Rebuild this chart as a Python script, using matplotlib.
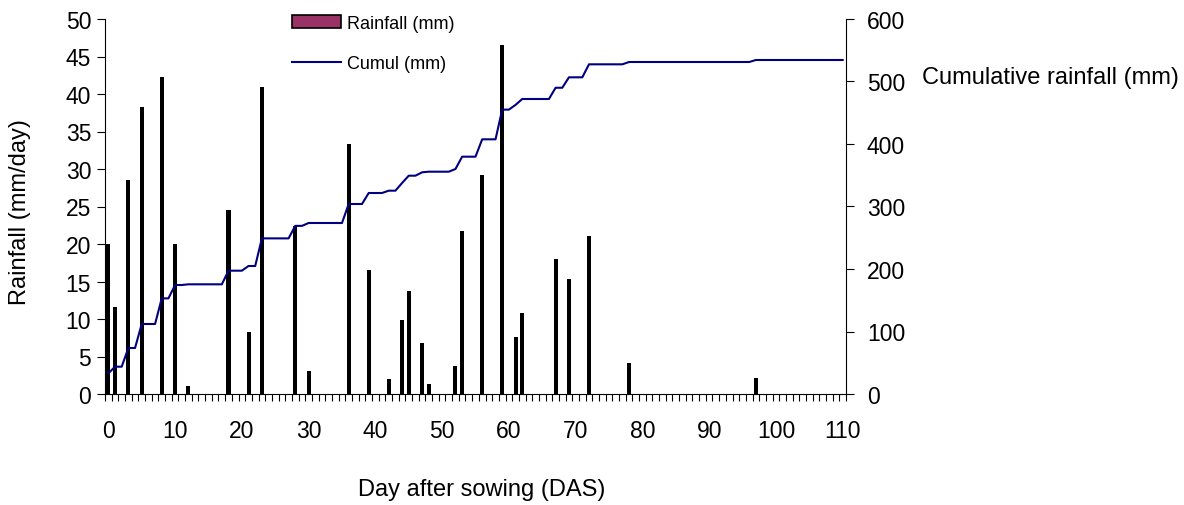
import numpy as np
import matplotlib
matplotlib.use("Agg")
import matplotlib.pyplot as plt
from matplotlib.patches import Patch
from matplotlib.lines import Line2D

plt.rcParams['font.family'] = ['Liberation Sans', 'DejaVu Sans']

# daily rainfall (mm/day) on the days it rained
rain_days = [0, 1, 3, 5, 8, 10, 12, 18, 21, 23, 28, 30, 36, 39, 42, 44, 45, 47, 48,
             52, 53, 56, 59, 61, 62, 67, 69, 72, 78, 97]
rain_mm = [20.0, 11.6, 28.6, 38.3, 42.3, 20.0, 1.1, 24.6, 8.3, 41.0, 22.4, 3.1, 33.4,
           16.5, 2.0, 9.9, 13.7, 6.8, 1.4, 3.7, 21.7, 29.2, 46.6, 7.6, 10.8, 18.0,
           15.4, 21.1, 4.2, 2.2]
# cumulative rainfall (mm) read at each rain day
cumul_mm = [33, 43.7, 73.6, 112, 153, 174.4, 175.5, 197.3, 204.8, 249, 269, 273.6,
            304, 321.6, 325.3, 337.6, 349.3, 354.7, 355.7, 360, 379.7, 407.5, 455,
            462.6, 472, 490, 506.7, 527.5, 531.2, 534.4]
last_day = 110

x_ticks = list(range(0, 111, 10))

# line vertices: flat between rain days, rising over the day of rain
line_x = [rain_days[0]]
line_y = [cumul_mm[0]]
for i in range(1, len(rain_days)):
    line_x += [rain_days[i] - 1, rain_days[i]]
    line_y += [cumul_mm[i - 1], cumul_mm[i]]
line_x.append(last_day)
line_y.append(cumul_mm[-1])

fs = 16.5

fig = plt.figure(figsize=(11.84, 5.06), dpi=100)
ax = fig.add_axes([105 / 1184, 1 - 395 / 506, (846 - 105) / 1184, (395 - 20) / 506])
ax2 = ax.twinx()

ax.bar(rain_days, rain_mm, width=0.6, color="black", zorder=2)
ax2.plot(line_x, line_y, color="#000080", lw=1.5, zorder=3)

ax.set_xlim(-0.5, last_day + 0.5)
ax.set_ylim(0, 50)
ax.set_yticks(range(0, 51, 5))
ax2.set_ylim(0, 600)
ax2.set_yticks(range(0, 601, 100))

ax.set_xticks(x_ticks)
ax.set_xticks(np.arange(-0.5, last_day + 1, 1), minor=True)
ax.tick_params(axis="x", which="major", length=0, pad=18, labelsize=fs)
ax.tick_params(axis="x", which="minor", length=5, direction="out", width=0.8)
ax.tick_params(axis="y", length=6, width=0.8, pad=4, labelsize=fs)
ax2.tick_params(axis="y", length=6, width=0.8, pad=9, labelsize=fs)

for a in (ax, ax2):
    a.spines["top"].set_visible(False)
    a.patch.set_visible(False)
ax.spines["right"].set_visible(False)
ax2.spines["left"].set_visible(False)
ax2.spines["bottom"].set_visible(False)

fig.text(20 / 1184, 1 - 212 / 506, "Rainfall (mm/day)", rotation=90,
         ha="center", va="center", fontsize=17)
fig.text(922 / 1184, 1 - 78 / 506, "Cumulative rainfall (mm)",
         ha="left", va="center", fontsize=17)
fig.text(482 / 1184, 1 - 490 / 506, "Day after sowing (DAS)",
         ha="center", va="center", fontsize=17)

handles = [Patch(facecolor="#993366", edgecolor="black", lw=1.2),
           Line2D([], [], color="#000080", lw=1.5)]
fig.legend(handles, ["Rainfall (mm)", "Cumul (mm)"], loc="upper left",
           bbox_to_anchor=(292 / 1184, 1 - 16 / 506), frameon=False,
           fontsize=13, handlelength=2.7, handletextpad=0.35, labelspacing=1.3,
           borderpad=0, borderaxespad=0)

fig.savefig("out.png", dpi=100)
